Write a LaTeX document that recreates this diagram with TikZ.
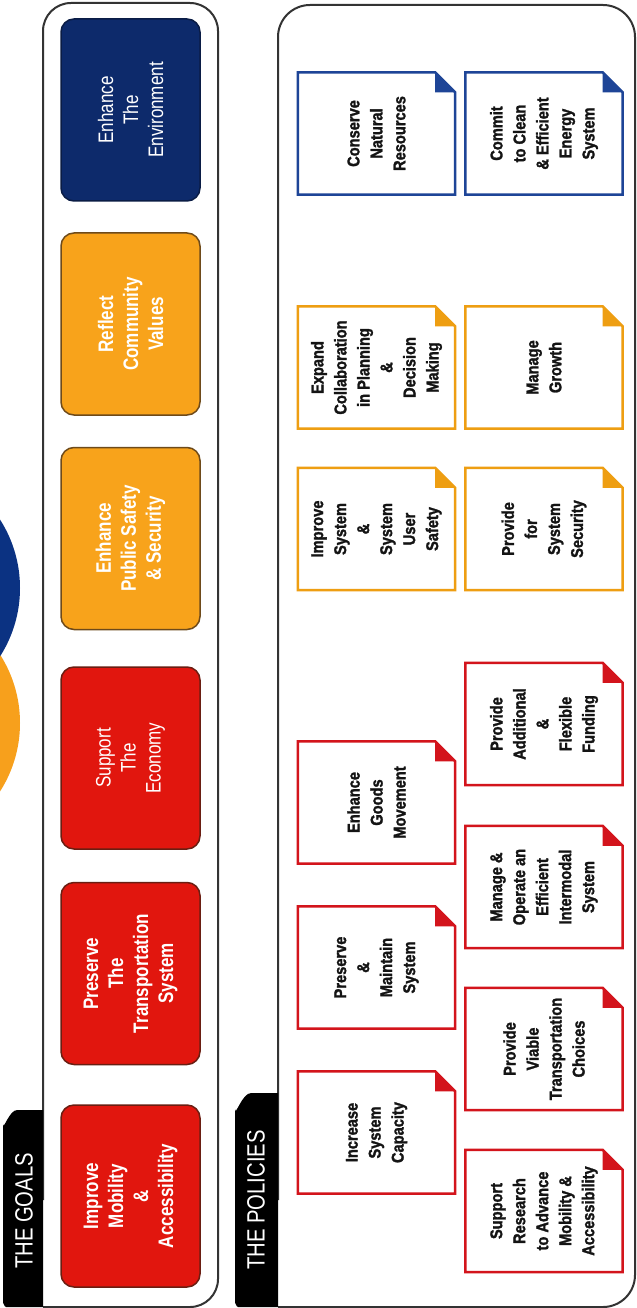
\documentclass[tikz,border=0pt]{standalone}
\usepackage{fontspec}
\newfontfamily\gfont[FakeStretch=0.81]{Liberation Sans}
\newfontfamily\pfont[FakeStretch=0.86, FakeBold=1.6]{Liberation Sans Bold}
\definecolor{gred}{HTML}{E1160E}
\definecolor{gorange}{HTML}{F8A31B}
\definecolor{gnavy}{HTML}{0D2A6B}
\definecolor{gredline}{HTML}{6A1E12}
\definecolor{goraline}{HTML}{6E4A1A}
\definecolor{gnavyline}{HTML}{0A1C45}
\definecolor{pred}{HTML}{D3141C}
\definecolor{porange}{HTML}{EE9E12}
\definecolor{pblue}{HTML}{1E4597}
\definecolor{panelline}{HTML}{333333}
\definecolor{cblue}{HTML}{0B3282}
\definecolor{corange}{HTML}{F7A01C}
\definecolor{ptextc}{HTML}{141414}
\tikzset{
  panel/.style={draw=panelline, line width=2bp, fill=white},
  tabfill/.style={fill=black},
  tabtext/.style={text=white, font=\gfont\fontsize{25bp}{28bp}\selectfont, inner sep=0pt},
  goalbox/.style={rectangle, rounded corners=13bp, minimum width=182bp, minimum height=139bp,
    line width=1.5bp, inner sep=0pt, align=center, text=white, rotate=90,
    font=\gfont\fontsize{21bp}{25bp}\selectfont},
  pshape/.style={rectangle, minimum width=157bp, minimum height=122bp, inner sep=0pt},
  pborder/.style={line width=2.5bp, fill=white, line join=miter},
  ptext/.style={align=center, text=ptextc, inner sep=0pt,
    font=\pfont\fontsize{17bp}{23bp}\selectfont}
}
\newcommand\pnote[5]{%
  \node[pshape] (#1) at (#2,#3) {};
  \draw[pborder, draw=#4] (#1.south west) -- (#1.north west)
     -- ([xshift=-20bp]#1.north east) -- ([yshift=-20bp]#1.north east)
     -- (#1.south east) -- cycle;
  \fill[#4] ([xshift=-20bp]#1.north east) -- ([xshift=-20bp,yshift=-20bp]#1.north east)
     -- ([yshift=-20bp]#1.north east) -- cycle;
  \node[ptext, rotate=90] (#1t) at (#1) {#5};
}
\begin{document}
\begin{tikzpicture}[x=1bp,y=-1bp]
\useasboundingbox (0,0) rectangle (637,1308);
\fill[white] (0,0) rectangle (637,1308);
% partial circles at the left edge
\begin{scope}
  \clip (0,0) rectangle (637,1308);
  \fill[corange] (-107,723) circle[radius=127bp];
  \fill[cblue] (-107,588) circle[radius=127bp];
\end{scope}
% goals panel
\draw[panel, rounded corners=28bp] (43,1200) -- (43,3) -- (218,3) -- (218,1307) -- (43,1307);
\fill[tabfill] (43,1307) -- (6,1307) to[out=180,in=90] (3,1303) -- (3,1124)
   to[out=-90,in=180] (17,1110) -- (43,1110) -- cycle;
\node[tabtext, rotate=90] (goalstab) at (24,1211) {THE GOALS};
% policies panel
\draw[panel, rounded corners=32bp] (278,1200) -- (278,5) -- (635,5) -- (635,1307) -- (278,1307);
\fill[tabfill] (278,1307) -- (238,1307) to[out=180,in=90] (235,1303) -- (235,1109)
   to[out=-90,in=180] (251,1093) -- (278,1093) -- cycle;
\node[tabtext, rotate=90] (policiestab) at (256,1200) {THE POLICIES};
% goals
\node[goalbox, fill=gnavy, draw=gnavyline] (g6) at (130.5,110) {Enhance\\The\\Environment};
\node[goalbox, fill=gorange, draw=goraline] (g5) at (130.5,324) {\bfseries Reflect\\\bfseries Community\\\bfseries Values};
\node[goalbox, fill=gorange, draw=goraline] (g4) at (130.5,538.5) {\bfseries Enhance\\\bfseries Public Safety\\\bfseries \& Security};
\node[goalbox, fill=gred, draw=gredline] (g3) at (130.5,758) {Support\\The\\Economy};
\node[goalbox, fill=gred, draw=gredline] (g2) at (130.5,973.5) {\bfseries Preserve\\\bfseries The\\\bfseries Transportation\\\bfseries System};
\node[goalbox, fill=gred, draw=gredline] (g1) at (130.5,1196) {\bfseries Improve\\\bfseries Mobility\\\bfseries \&\\\bfseries Accessibility};
% policies: red
\pnote{p1}{544}{1211}{pred}{Support\\Research\\to Advance\\Mobility \&\\Accessibility}
\pnote{p2}{376.5}{1132.5}{pred}{Increase\\System\\Capacity}
\pnote{p3}{544}{1049}{pred}{Provide\\Viable\\Transportation\\Choices}
\pnote{p4}{376.5}{967.5}{pred}{Preserve\\\&\\Maintain\\System}
\pnote{p5}{544}{887}{pred}{Manage \&\\Operate an\\Efficient\\Intermodal\\System}
\pnote{p6}{376.5}{802.5}{pred}{Enhance\\Goods\\Movement}
\pnote{p7}{544}{724}{pred}{Provide\\Additional\\\&\\Flexible\\Funding}
% policies: orange
\pnote{p8}{376.5}{529}{porange}{Improve\\System\\\&\\System\\User\\Safety}
\pnote{p9}{544}{529}{porange}{Provide\\for\\System\\Security}
\pnote{p10}{376.5}{367.5}{porange}{Expand\\Collaboration\\in Planning\\\&\\Decision\\Making}
\pnote{p11}{544}{367.5}{porange}{Manage\\Growth}
% policies: blue
\pnote{p12}{376.5}{133.5}{pblue}{Conserve\\Natural\\Resources}
\pnote{p13}{544}{133.5}{pblue}{Commit\\to Clean\\\& Efficient\\Energy\\System}
\end{tikzpicture}
\end{document}
